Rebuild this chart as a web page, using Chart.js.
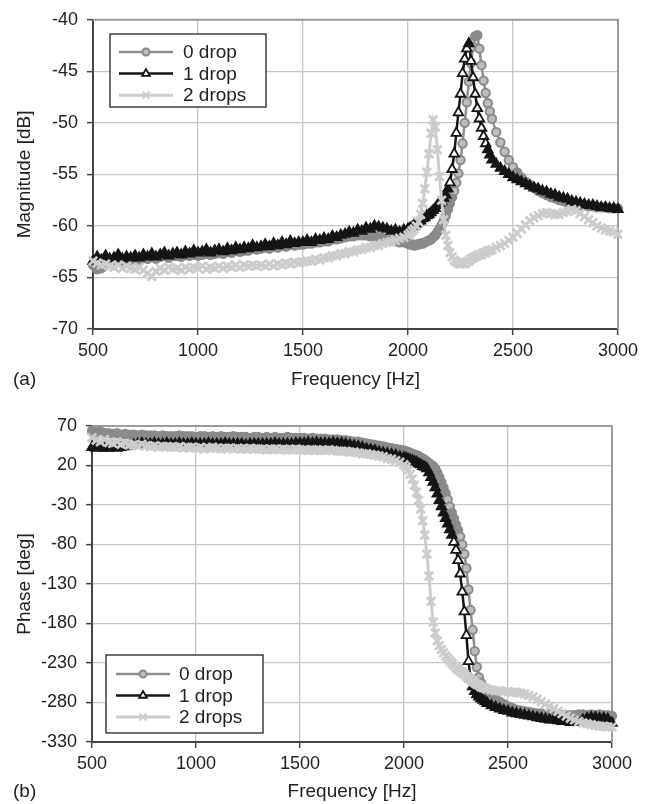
<!DOCTYPE html>
<html>
<head>
<meta charset="utf-8">
<script src="https://cdn.jsdelivr.net/npm/chart.js@4.4.1/dist/chart.umd.min.js"></script>
<style>
  html, body { margin: 0; padding: 0; background: #fff; }
  #wrap { position: relative; width: 654px; height: 804px; }
  canvas { position: absolute; left: 0; }
  #magChart { top: 0; }
  #phaseChart { top: 400px; }
</style>
</head>
<body>
<div id="wrap">
  <canvas id="magChart" width="654" height="400"></canvas>
  <canvas id="phaseChart" width="654" height="404"></canvas>
</div>
<script>
// frequency points (Hz), shared by all series
const freqHz = [
  500,520,540,560,580,600,620,640,660,680,
  700,720,740,760,780,800,820,840,860,880,
  900,920,940,960,980,1000,1020,1040,1060,1080,
  1100,1120,1140,1160,1180,1200,1220,1240,1260,1280,
  1300,1320,1340,1360,1380,1400,1420,1440,1460,1480,
  1500,1520,1540,1560,1580,1600,1620,1640,1660,1680,
  1700,1720,1740,1760,1780,1800,1820,1840,1860,1880,
  1900,1920,1940,1960,1980,2000,
  2010,2020,2030,2040,2050,2060,2070,2080,2090,2100,
  2110,2120,2130,2140,2150,2160,2170,2180,2190,2200,
  2210,2220,2230,2240,2250,2260,2270,2280,2290,2300,
  2310,2320,2330,2340,2350,2360,2370,2380,2390,2400,
  2420,2440,2460,2480,2500,2520,2540,2560,2580,2600,
  2620,2640,2660,2680,2700,2720,2740,2760,2780,2800,
  2820,2840,2860,2880,2900,2920,2940,2960,2980,3000
];

const seriesLabels = ['0 drop', '1 drop', '2 drops'];

// (a) magnitude, dB
const mag0Drop = [
  -63.8,-64.2,-64.1,-63.6,-63.5,-63.4,-63.2,-63.4,-63.3,-63.3,
  -63.2,-63.3,-63.1,-63.2,-63.0,-63.2,-63.0,-62.9,-63.1,-62.9,
  -62.9,-63.0,-62.8,-62.9,-62.8,-62.9,-62.8,-62.7,-62.8,-62.7,
  -62.6,-62.7,-62.5,-62.6,-62.4,-62.5,-62.4,-62.4,-62.2,-62.3,
  -62.2,-62.1,-62.2,-62.0,-62.1,-61.9,-62.0,-61.8,-61.9,-61.8,
  -61.8,-61.7,-61.7,-61.6,-61.6,-61.5,-61.5,-61.3,-61.3,-61.2,
  -61.1,-61.0,-61.0,-60.9,-60.9,-60.9,-61.0,-61.0,-61.1,-61.2,
  -61.3,-61.4,-61.5,-61.6,-61.6,-61.7,
  -61.8,-61.8,-61.9,-61.8,-61.8,-61.7,-61.7,-61.6,-61.5,-61.4,
  -61.3,-61.1,-60.9,-60.6,-60.3,-59.9,-59.5,-59.0,-58.4,-57.8,
  -57.2,-56.6,-55.8,-54.9,-53.6,-52.0,-50.0,-48.0,-46.0,-44.2,
  -42.6,-41.6,-41.5,-42.8,-44.4,-45.9,-47.1,-48.1,-48.9,-49.6,
  -50.9,-51.9,-52.8,-53.6,-54.3,-54.8,-55.3,-55.7,-56.0,-56.3,
  -56.6,-56.8,-57.0,-57.2,-57.3,-57.5,-57.6,-57.7,-57.8,-57.9,
  -58.0,-58.0,-58.1,-58.1,-58.2,-58.2,-58.2,-58.3,-58.3,-58.3
];
const mag1Drop = [
  -63.4,-63.0,-63.3,-62.9,-63.2,-63.1,-62.8,-63.2,-63.0,-63.1,
  -62.9,-63.1,-62.8,-63.0,-62.7,-63.0,-62.8,-62.6,-62.9,-62.7,
  -62.6,-62.8,-62.5,-62.7,-62.4,-62.6,-62.5,-62.3,-62.6,-62.4,
  -62.3,-62.5,-62.2,-62.4,-62.1,-62.3,-62.1,-62.2,-61.9,-62.1,
  -62.0,-61.8,-62.0,-61.7,-61.9,-61.6,-61.8,-61.5,-61.7,-61.6,
  -61.6,-61.4,-61.6,-61.3,-61.4,-61.2,-61.3,-61.0,-61.1,-60.9,
  -60.8,-60.6,-60.7,-60.4,-60.5,-60.2,-60.3,-60.0,-60.1,-60.2,
  -60.3,-60.5,-60.4,-60.6,-60.4,-60.3,
  -60.2,-60.1,-59.9,-59.8,-59.6,-59.5,-59.3,-59.2,-59.0,-58.9,
  -58.7,-58.5,-58.3,-58.0,-57.8,-57.6,-57.3,-57.0,-56.4,-55.8,
  -54.5,-53.0,-51.0,-49.0,-47.2,-45.2,-43.8,-42.8,-42.3,-44.0,
  -45.6,-47.2,-48.6,-49.6,-50.5,-51.3,-52.0,-52.6,-53.1,-53.6,
  -54.0,-54.4,-54.7,-55.0,-55.3,-55.5,-55.7,-55.9,-56.1,-56.3,
  -56.4,-56.6,-56.7,-56.9,-57.0,-57.2,-57.3,-57.4,-57.6,-57.7,
  -57.8,-57.9,-58.0,-58.0,-58.1,-58.2,-58.2,-58.3,-58.3,-58.4
];
const mag2Drops = [
  -63.4,-63.6,-63.8,-63.7,-63.9,-64.0,-63.8,-64.1,-63.9,-64.1,
  -64.2,-64.0,-64.3,-64.6,-64.9,-64.4,-64.1,-64.3,-64.0,-64.2,
  -64.1,-64.3,-64.0,-64.2,-64.0,-64.1,-63.9,-64.2,-64.0,-64.1,
  -63.9,-64.1,-63.9,-64.0,-63.8,-64.0,-63.8,-63.9,-63.8,-63.9,
  -63.8,-63.9,-63.7,-63.9,-63.7,-63.8,-63.6,-63.7,-63.5,-63.6,
  -63.5,-63.4,-63.4,-63.2,-63.3,-63.1,-63.1,-62.9,-62.9,-62.7,
  -62.7,-62.5,-62.5,-62.3,-62.3,-62.1,-62.1,-61.9,-61.9,-61.7,
  -61.6,-61.5,-61.4,-61.2,-61.1,-60.9,
  -60.7,-60.5,-60.3,-60.0,-59.6,-58.9,-57.8,-56.4,-54.8,-53.0,
  -51.0,-49.7,-50.4,-52.6,-55.2,-57.5,-59.4,-60.9,-61.9,-62.6,
  -63.0,-63.3,-63.5,-63.6,-63.7,-63.6,-63.7,-63.5,-63.4,-63.2,
  -63.1,-63.0,-62.9,-62.8,-62.8,-62.6,-62.6,-62.4,-62.4,-62.3,
  -62.1,-61.9,-61.7,-61.4,-61.1,-60.7,-60.3,-59.9,-59.5,-59.2,
  -59.0,-58.8,-58.7,-58.8,-58.9,-58.9,-58.7,-58.6,-58.4,-58.5,
  -58.8,-59.1,-59.4,-59.7,-60.0,-60.2,-60.4,-60.5,-60.6,-60.8
];

// (b) phase, deg
const phase0Drop = [
  64,62,63,61,61,60,61,59,60,59,
  59,58,59,58,58,58,57,58,57,57,
  57,58,57,57,57,56,57,57,56,57,
  56,57,56,56,57,56,56,56,55,56,
  56,55,56,55,56,55,55,56,55,55,
  55,55,54,55,54,54,54,53,53,53,
  52,52,51,50,50,49,48,47,46,45,
  44,43,42,41,40,39,
  38,37,36,35,34,33,32,30,29,27,
  25,23,21,19,16,11,5,-1,-8,-15,
  -23,-32,-40,-47,-55,-62,-70,-80,-92,-110,
  -137,-163,-188,-215,-235,-248,-255,-260,-264,-267,
  -272,-276,-279,-282,-285,-287,-289,-290,-291,-292,
  -293,-294,-294,-295,-295,-296,-296,-296,-296,-296,
  -296,-295,-295,-296,-295,-296,-295,-296,-296,-297
];
const phase1Drop = [
  43,42,43,42,42,43,42,43,44,45,
  46,47,48,47,47,48,47,47,48,47,
  47,48,47,47,48,47,47,47,48,47,
  47,47,48,47,47,47,47,46,47,47,
  47,47,47,47,48,47,47,47,47,48,
  48,48,49,48,49,48,48,48,49,48,
  48,47,46,45,44,43,41,40,39,37,
  36,35,34,33,31,30,
  29,28,27,26,25,24,22,21,19,18,
  16,11,5,-1,-8,-16,-24,-32,-40,-47,
  -54,-61,-68,-77,-87,-100,-117,-140,-165,-195,
  -228,-250,-260,-266,-270,-273,-275,-277,-279,-281,
  -284,-286,-288,-290,-291,-293,-294,-295,-296,-297,
  -298,-299,-300,-301,-302,-302,-303,-304,-304,-305,
  -305,-305,-302,-300,-299,-299,-300,-300,-301,-306
];
const phase2Drops = [
  55,52,50,53,49,48,50,47,48,46,
  46,45,47,45,44,45,43,44,44,43,
  43,44,42,43,43,42,43,41,42,43,
  42,41,42,42,41,42,41,41,42,41,
  41,41,40,41,41,40,41,40,40,41,
  40,40,39,40,40,39,39,40,39,38,
  38,38,37,37,36,35,35,34,33,32,
  31,29,28,26,24,21,
  18,14,9,3,-5,-14,-24,-35,-50,-68,
  -92,-120,-152,-178,-192,-202,-208,-213,-217,-221,
  -224,-227,-230,-233,-236,-238,-240,-242,-244,-247,
  -249,-251,-253,-255,-257,-258,-260,-261,-262,-263,
  -264,-265,-265,-266,-266,-267,-267,-268,-269,-271,
  -273,-276,-279,-282,-285,-288,-291,-294,-297,-300,
  -302,-304,-306,-307,-308,-309,-310,-310,-311,-311
];

// tick labels
const freqTicks = [500, 1000, 1500, 2000, 2500, 3000];
const magTicks = [-70, -65, -60, -55, -50, -45, -40];
const phaseTicks = [-330, -280, -230, -180, -130, -80, -30, 20, 70];

const FONT = "'Liberation Sans', Arial, Helvetica, sans-serif";
Chart.defaults.font.family = FONT;
Chart.defaults.color = '#222';

// marker looks for the plot; the legend uses smaller ones
const seriesStyle = [
  { pointStyle: 'circle',   radius: 4.2, legendRadius: 3.5, line: '#8e8e8e', lineWidth: 2.5, stroke: '#8a8a8a', fill: '#bdbdbd', pointLw: 2 },
  { pointStyle: 'triangle', radius: 5.5, legendRadius: 4.5, line: '#151515', lineWidth: 2.5, stroke: '#151515', fill: '#ffffff', pointLw: 1.8 },
  { pointStyle: 'crossRot', radius: 6,   legendRadius: 5,   line: '#cccccc', lineWidth: 3,   stroke: '#cccccc', fill: '#cccccc', pointLw: 2.8 }
];

// where markers crowd together their outlines merge into a solid band
function markerFill(c, s) {
  const pts = c.dataset && c.dataset.data;
  const xs = c.chart.scales.x, ys = c.chart.scales.y;
  if (!pts || !xs || !ys || c.dataIndex === undefined) return s.fill;
  const i = c.dataIndex;
  const a = pts[Math.max(i - 1, 0)], b = pts[Math.min(i + 1, pts.length - 1)];
  const dx = xs.getPixelForValue(b.x) - xs.getPixelForValue(a.x);
  const dy = ys.getPixelForValue(b.y) - ys.getPixelForValue(a.y);
  return Math.hypot(dx, dy) < 14 ? s.stroke : s.fill;
}

function buildDatasets(seriesValues) {
  return seriesValues.map((vals, i) => {
    const s = seriesStyle[i];
    return {
      label: seriesLabels[i],
      data: freqHz.map((f, k) => ({ x: f, y: vals[k] })),
      borderColor: s.line,
      borderWidth: s.lineWidth,
      pointStyle: s.pointStyle,
      pointRadius: s.radius,
      pointBorderColor: s.stroke,
      pointBackgroundColor: c => markerFill(c, s),
      pointBorderWidth: s.pointLw,
      tension: 0,
      order: 3 - i,   // 0 drop drawn first, 2 drops on top
      clip: 8
    };
  });
}

function freqAxis(axisHeight, titlePadBottom) {
  return {
    type: 'linear',
    position: 'bottom',
    min: freqTicks[0],
    max: freqTicks[freqTicks.length - 1],
    afterBuildTicks: s => { s.ticks = freqTicks.map(v => ({ value: v })); },
    afterFit: s => { s.height = axisHeight; },
    ticks: { font: { size: 18 }, color: '#222', padding: 5, maxRotation: 0, autoSkip: false, callback: v => String(v) },
    grid: { color: '#c6c6c6', lineWidth: 1.3, tickLength: 6, tickColor: '#444', tickWidth: 1.5 },
    border: { color: '#444', width: 2 },
    title: { display: true, text: 'Frequency [Hz]', font: { size: 19 }, color: '#222', padding: { top: 0, bottom: titlePadBottom } }
  };
}

function valueAxis(tickList, titleText, axisWidth) {
  return {
    type: 'linear',
    position: 'left',
    min: tickList[0],
    max: tickList[tickList.length - 1],
    afterBuildTicks: s => { s.ticks = tickList.map(v => ({ value: v })); },
    afterFit: s => { s.width = axisWidth; },
    ticks: { font: { size: 18 }, color: '#222', padding: 9, autoSkip: false, callback: v => String(v) },
    grid: { color: '#c6c6c6', lineWidth: 1.3, tickLength: 6, tickColor: '#444', tickWidth: 1.5 },
    border: { color: '#444', width: 2 },
    title: { display: true, text: titleText, font: { size: 19 }, color: '#222', padding: { top: 13, bottom: 0 } }
  };
}

// grey top and right edges of the plot area
const plotFrame = {
  id: 'plotFrame',
  beforeDatasetsDraw(chart) {
    const { ctx, chartArea: a } = chart;
    ctx.save();
    ctx.strokeStyle = '#9c9c9c';
    ctx.lineWidth = 2;
    ctx.beginPath();
    ctx.moveTo(a.left, a.top);
    ctx.lineTo(a.right, a.top);
    ctx.lineTo(a.right, a.bottom);
    ctx.stroke();
    ctx.restore();
  }
};

function drawMarker(ctx, style, x, y, r, fill, stroke, lw) {
  ctx.save();
  ctx.lineWidth = lw;
  ctx.strokeStyle = stroke;
  ctx.fillStyle = fill;
  ctx.beginPath();
  if (style === 'circle') {
    ctx.arc(x, y, r, 0, Math.PI * 2);
    ctx.fill();
    ctx.stroke();
  } else if (style === 'triangle') {
    ctx.moveTo(x, y - r);
    ctx.lineTo(x + r * 0.866, y + r * 0.5);
    ctx.lineTo(x - r * 0.866, y + r * 0.5);
    ctx.closePath();
    ctx.fill();
    ctx.stroke();
  } else {
    const d = r * 0.707;
    ctx.moveTo(x - d, y - d); ctx.lineTo(x + d, y + d);
    ctx.moveTo(x + d, y - d); ctx.lineTo(x - d, y + d);
    ctx.stroke();
  }
  ctx.restore();
}

// boxed legend inside the plot + the (a)/(b) tag
const boxLegend = {
  id: 'boxLegend',
  afterDraw(chart, args, o) {
    const ctx = chart.ctx;
    ctx.save();
    ctx.fillStyle = '#fff';
    ctx.fillRect(o.x, o.y, o.w, o.h);
    ctx.strokeStyle = '#222';
    ctx.lineWidth = 1.3;
    ctx.strokeRect(o.x, o.y, o.w, o.h);
    ctx.font = '19px ' + FONT;
    ctx.textBaseline = 'middle';
    ctx.textAlign = 'left';
    chart.data.datasets.forEach((ds, i) => {
      const s = seriesStyle[i];
      const y = o.y + o.firstRow + i * o.rowGap;
      ctx.strokeStyle = s.line;
      ctx.lineWidth = s.lineWidth;
      ctx.beginPath();
      ctx.moveTo(o.lineX0, y);
      ctx.lineTo(o.lineX1, y);
      ctx.stroke();
      drawMarker(ctx, s.pointStyle, (o.lineX0 + o.lineX1) / 2, y, s.legendRadius, s.fill, s.stroke, Math.min(s.pointLw, 2));
      ctx.fillStyle = '#222';
      ctx.fillText(ds.label, o.textX, y + 1);
    });
    ctx.fillStyle = '#222';
    ctx.fillText(o.tag, o.tagX, o.tagY);
    ctx.restore();
  }
};

new Chart(document.getElementById('magChart'), {
  type: 'line',
  data: { datasets: buildDatasets([mag0Drop, mag1Drop, mag2Drops]) },
  options: {
    responsive: false,
    animation: false,
    devicePixelRatio: 1,
    layout: { padding: { left: 0, right: 36, top: 19, bottom: 0 } },
    plugins: {
      legend: { display: false },
      tooltip: { enabled: false },
      boxLegend: { x: 110, y: 34, w: 156, h: 73, firstRow: 18, rowGap: 21.6, lineX0: 119, lineX1: 173, textX: 183, tag: '(a)', tagX: 13, tagY: 380 }
    },
    scales: {
      x: freqAxis(71, 9),
      y: valueAxis(magTicks, 'Magnitude [dB]', 93)
    }
  },
  plugins: [plotFrame, boxLegend]
});

new Chart(document.getElementById('phaseChart'), {
  type: 'line',
  data: { datasets: buildDatasets([phase0Drop, phase1Drop, phase2Drops]) },
  options: {
    responsive: false,
    animation: false,
    devicePixelRatio: 1,
    layout: { padding: { left: 0, right: 42, top: 26, bottom: 0 } },
    plugins: {
      legend: { display: false },
      tooltip: { enabled: false },
      boxLegend: { x: 106, y: 255, w: 157, h: 78, firstRow: 19, rowGap: 21.5, lineX0: 116, lineX1: 170, textX: 179, tag: '(b)', tagX: 13, tagY: 392 }
    },
    scales: {
      x: freqAxis(62, 1),
      y: valueAxis(phaseTicks, 'Phase [deg]', 92)
    }
  },
  plugins: [plotFrame, boxLegend]
});
</script>
</body>
</html>
